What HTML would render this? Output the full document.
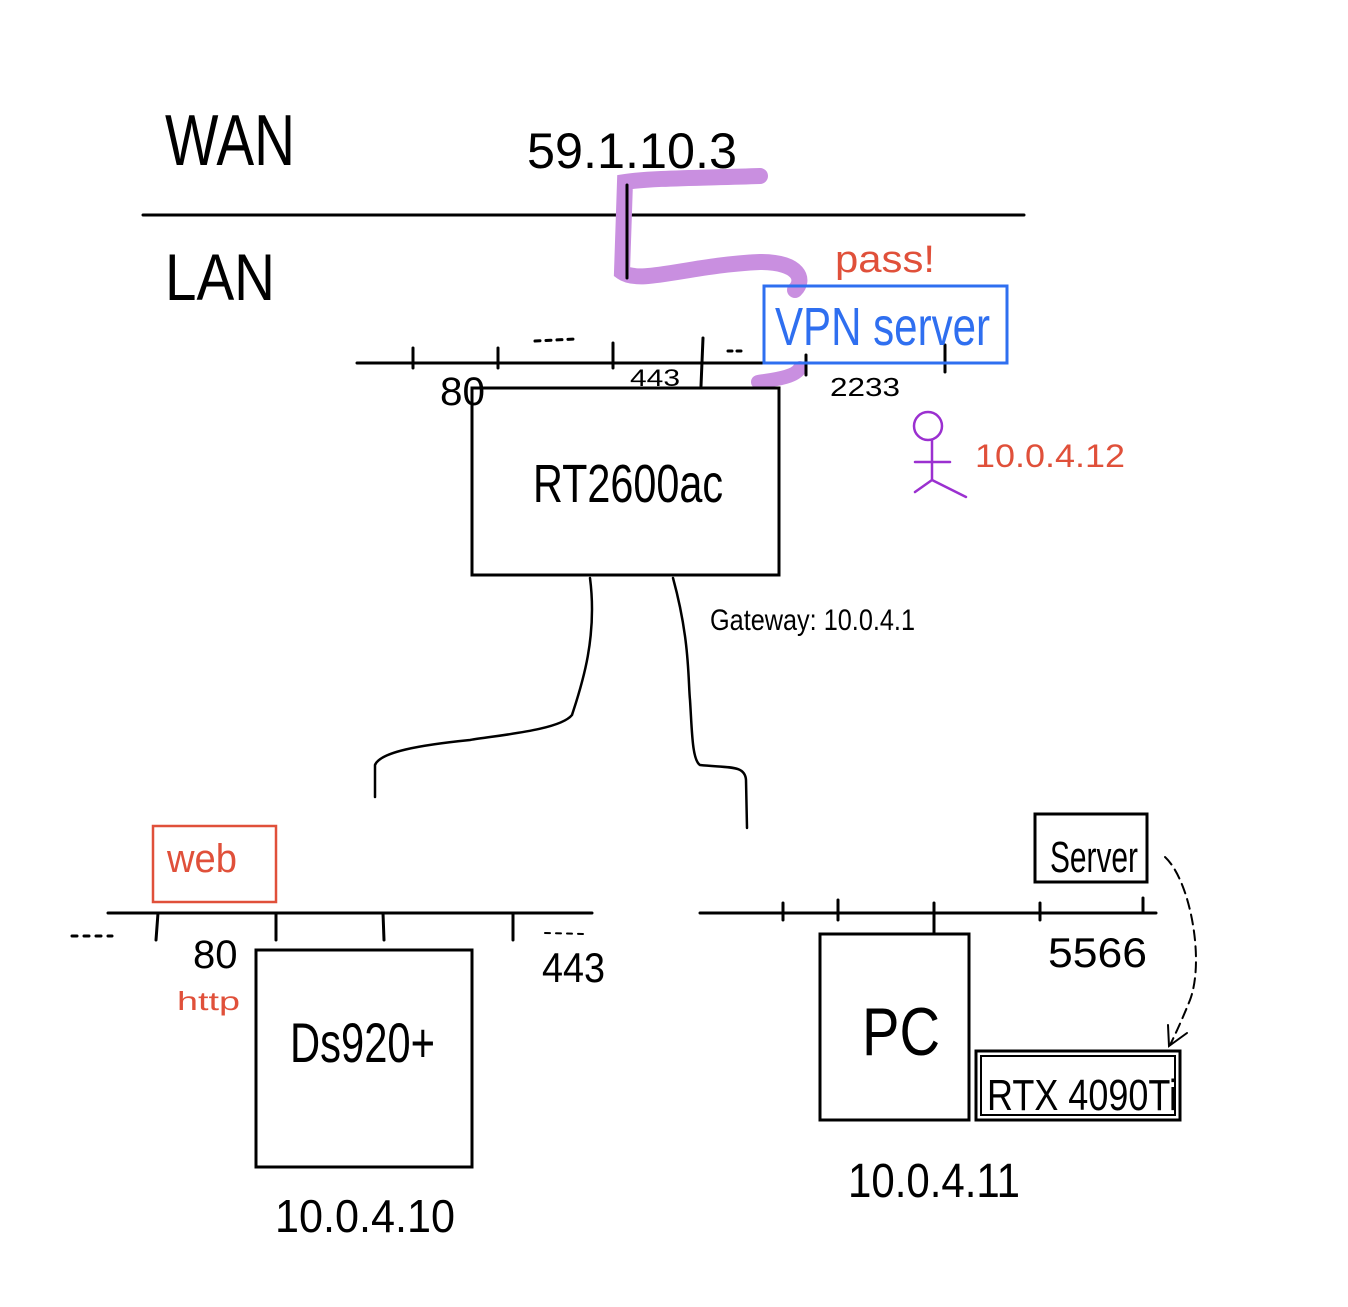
<!DOCTYPE html>
<html><head><meta charset="utf-8"><style>
html,body{margin:0;padding:0;background:#fff}
svg{display:block}
text{font-family:"Liberation Sans",sans-serif}
</style></head><body>
<svg width="1348" height="1307" viewBox="0 0 1348 1307" xmlns="http://www.w3.org/2000/svg">
<g fill="none" stroke="#000" stroke-width="3" stroke-linecap="round">
<line x1="143" y1="215" x2="1024" y2="215"/>
<path d="M760,176 C700,178 650,178 625,182 L622,272 C640,285 690,265 760,262 C800,262 805,280 795,290" stroke="#c98fe0" stroke-width="16"/>
<path d="M758,382 C770,380 795,378 800,368" stroke="#c98fe0" stroke-width="14"/>
<line x1="627" y1="185" x2="627" y2="278"/>
<line x1="357" y1="363" x2="965" y2="363"/>
<line x1="413" y1="348" x2="413" y2="368"/>
<line x1="498" y1="348" x2="498" y2="368"/>
<line x1="613" y1="343" x2="613" y2="368"/>
<line x1="703" y1="338" x2="701" y2="386"/>
<line x1="806" y1="355" x2="806" y2="375"/>
<line x1="945" y1="345" x2="945" y2="372"/>
<line x1="535" y1="341" x2="575" y2="339" stroke-dasharray="5 6"/>
<line x1="728" y1="351" x2="744" y2="351" stroke-dasharray="4 5"/>
<rect x="472" y="388" width="307" height="187"/>
<rect x="764" y="286" width="243" height="77" stroke="#2f6ff0"/>
<g stroke="#9b30d0" stroke-width="2.5">
<circle cx="928" cy="426" r="14"/>
<line x1="932" y1="440" x2="932" y2="480"/>
<line x1="915" y1="462" x2="950" y2="462"/>
<line x1="932" y1="480" x2="915" y2="492"/>
<line x1="932" y1="480" x2="966" y2="497"/>
</g>
<path d="M590,578 C598,640 580,690 572,715 C560,730 500,735 470,740 C420,745 380,752 375,765 L375,797" stroke-width="2.5"/>
<path d="M673,578 C690,640 688,680 690,700 C692,730 692,760 700,765 C730,768 745,765 746,780 L747,828" stroke-width="2.5"/>
<line x1="108" y1="913" x2="592" y2="913"/>
<line x1="158" y1="913" x2="156" y2="940"/>
<line x1="276" y1="913" x2="276" y2="940"/>
<line x1="383" y1="913" x2="384" y2="940"/>
<line x1="513" y1="913" x2="513" y2="940"/>
<line x1="72" y1="936" x2="112" y2="936" stroke-dasharray="5 7"/>
<line x1="545" y1="933" x2="585" y2="934" stroke-dasharray="5 6" stroke-width="2"/>
<rect x="256" y="950" width="216" height="217"/>
<rect x="153" y="826" width="123" height="76" stroke="#e0503a" stroke-width="2.5"/>
<line x1="700" y1="913" x2="1156" y2="913"/>
<line x1="783" y1="903" x2="783" y2="920"/>
<line x1="838" y1="900" x2="838" y2="920"/>
<line x1="934" y1="903" x2="934" y2="934"/>
<line x1="1040" y1="903" x2="1040" y2="920"/>
<line x1="1143" y1="898" x2="1143" y2="913"/>
<rect x="820" y="934" width="149" height="186"/>
<rect x="1035" y="814" width="112" height="68"/>
<rect x="976" y="1051" width="204" height="69"/>
<rect x="981" y="1056" width="194" height="59" stroke-width="2"/>
<path d="M1165,857 C1190,880 1205,960 1190,1000 C1182,1020 1175,1035 1170,1045" stroke-width="2" stroke-dasharray="10 6"/>
<path d="M1168,1025 L1169,1046 L1187,1033" stroke-width="2"/>
</g>
<g fill="#000">
<text x="165" y="165" font-size="72" textLength="130" lengthAdjust="spacingAndGlyphs">WAN</text>
<text x="165" y="300" font-size="66" textLength="110" lengthAdjust="spacingAndGlyphs">LAN</text>
<text x="527" y="168" font-size="50" textLength="210" lengthAdjust="spacingAndGlyphs">59.1.10.3</text>
<text x="440" y="405" font-size="40" textLength="45" lengthAdjust="spacingAndGlyphs">80</text>
<text x="630" y="386" font-size="24" textLength="50" lengthAdjust="spacingAndGlyphs">443</text>
<text x="830" y="396" font-size="26" textLength="70" lengthAdjust="spacingAndGlyphs">2233</text>
<text x="533" y="502" font-size="54" textLength="190" lengthAdjust="spacingAndGlyphs">RT2600ac</text>
<text x="710" y="630" font-size="30" textLength="205" lengthAdjust="spacingAndGlyphs">Gateway: 10.0.4.1</text>
<text x="193" y="968" font-size="40">80</text>
<text x="542" y="982" font-size="42" textLength="63" lengthAdjust="spacingAndGlyphs">443</text>
<text x="290" y="1062" font-size="56" textLength="145" lengthAdjust="spacingAndGlyphs">Ds920+</text>
<text x="275" y="1232" font-size="46" textLength="180" lengthAdjust="spacingAndGlyphs">10.0.4.10</text>
<text x="862" y="1055" font-size="68" textLength="78" lengthAdjust="spacingAndGlyphs">PC</text>
<text x="1048" y="967" font-size="42" textLength="99" lengthAdjust="spacingAndGlyphs">5566</text>
<text x="1050" y="872" font-size="44" textLength="88" lengthAdjust="spacingAndGlyphs">Server</text>
<text x="987" y="1110" font-size="44" textLength="190" lengthAdjust="spacingAndGlyphs">RTX 4090Ti</text>
<text x="848" y="1197" font-size="48" textLength="172" lengthAdjust="spacingAndGlyphs">10.0.4.11</text>
</g>
<g fill="#e0503a">
<text x="835" y="272" font-size="38" textLength="100" lengthAdjust="spacingAndGlyphs">pass!</text>
<text x="975" y="467" font-size="32" textLength="150" lengthAdjust="spacingAndGlyphs">10.0.4.12</text>
<text x="167" y="872" font-size="40" textLength="70" lengthAdjust="spacingAndGlyphs">web</text>
<text x="177" y="1010" font-size="26" textLength="63" lengthAdjust="spacingAndGlyphs">http</text>
</g>
<text x="775" y="345" font-size="54" fill="#2f6ff0" textLength="215" lengthAdjust="spacingAndGlyphs">VPN server</text>
</svg>
</body></html>
